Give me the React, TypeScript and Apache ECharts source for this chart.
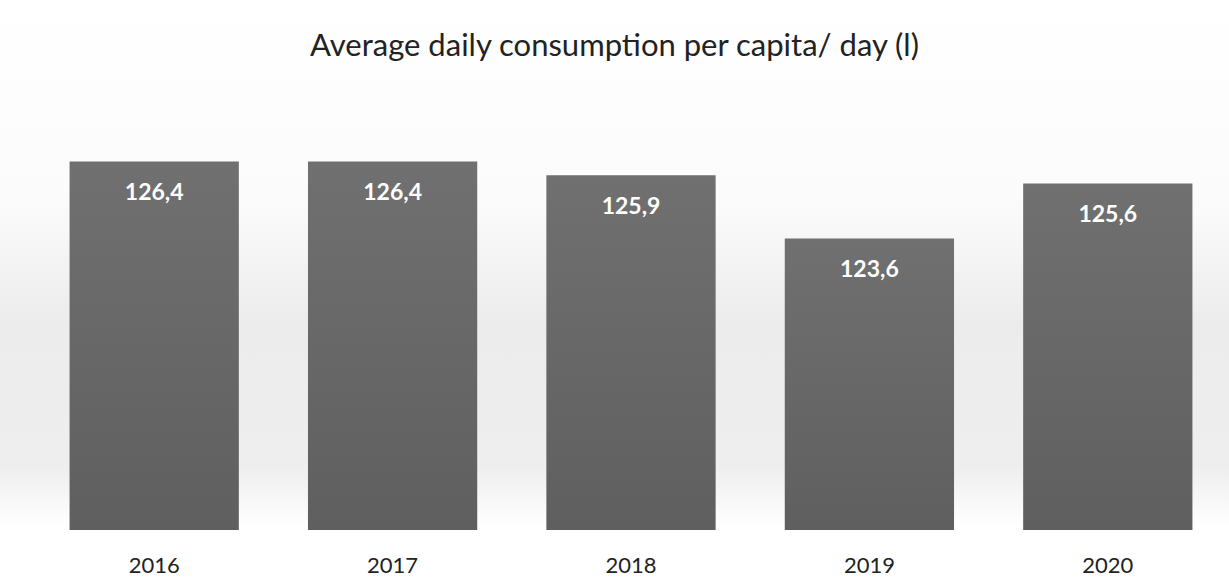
import React, { useEffect, useRef } from "react";
import * as echarts from "echarts";

const years = ["2016", "2017", "2018", "2019", "2020"];
const consumption = [126.4, 126.4, 125.9, 123.6, 125.6];
const titleText = "Average daily consumption per capita/ day (l)";

export default function App() {
  const ref = useRef<HTMLDivElement>(null);
  useEffect(() => {
    document.body.style.margin = "0";
    const chart = echarts.init(ref.current!, null, { renderer: "svg" });
    chart.setOption({
      animation: false,
      backgroundColor: {
        type: "linear",
        x: 0, y: 0, x2: 0, y2: 1,
        colorStops: [
          { offset: 0, color: "#ffffff" },
          { offset: 0.35, color: "#fbfbfb" },
          { offset: 0.55, color: "#ececec" },
          { offset: 0.8, color: "#eeeeee" },
          { offset: 0.9, color: "#ffffff" },
          { offset: 1, color: "#ffffff" },
        ],
      },
      title: {
        text: titleText,
        left: "center",
        top: 23,
        textStyle: { fontFamily: "Lato", fontSize: 31, fontWeight: "normal", color: "#222" },
      },
      grid: { left: 35, right: 2, top: 117.5, bottom: 54 },
      xAxis: {
        type: "category",
        data: years,
        axisLine: { show: false },
        axisTick: { show: false },
        axisLabel: { fontFamily: "Lato", fontSize: 22, color: "#222", margin: 23 },
      },
      yAxis: {
        type: "value",
        min: 113,
        max: 128,
        show: false,
        splitLine: { show: false },
      },
      series: [
        {
          type: "bar",
          data: consumption,
          barCategoryGap: "29%",
          itemStyle: {
            color: {
              type: "linear",
              x: 0, y: 0, x2: 0, y2: 1,
              colorStops: [
                { offset: 0, color: "#707070" },
                { offset: 1, color: "#5f5f5f" },
              ],
            },
          },
          label: {
            show: true,
            position: "insideTop",
            distance: 18,
            formatter: (p: any) => String(p.value).replace(".", ","),
            fontFamily: "Lato",
            fontWeight: "bold",
            fontSize: 23,
            color: "#ffffff",
          },
        },
      ],
    });
    return () => chart.dispose();
  }, []);
  return <div ref={ref} style={{ width: 1229, height: 584 }} />;
}
